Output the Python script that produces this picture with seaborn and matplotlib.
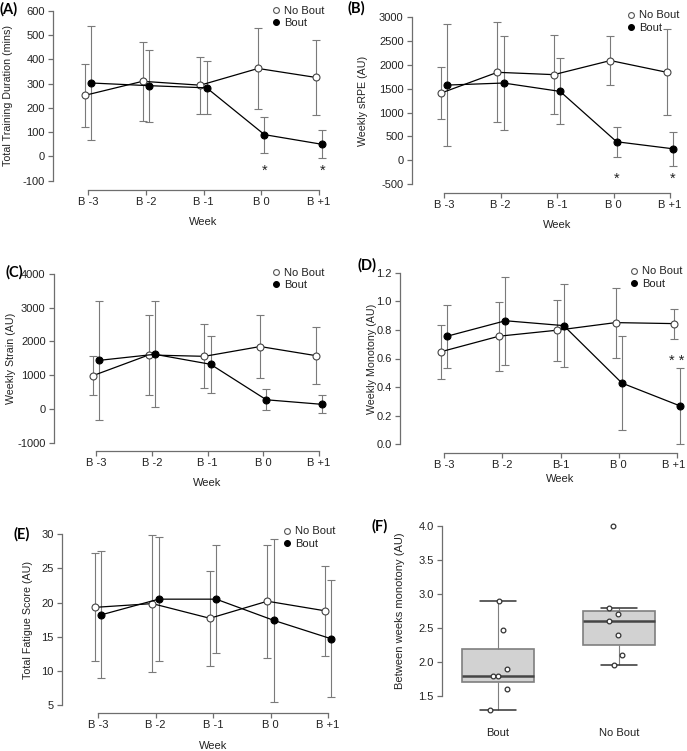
import numpy as np
import pandas as pd
import matplotlib
matplotlib.use('Agg')
import matplotlib.pyplot as plt
import matplotlib.transforms as mtransforms
from matplotlib.lines import Line2D
import seaborn as sns

# ---- data (mean and SD) ----
WEEKS = ['B -3', 'B -2', 'B -1', 'B 0', 'B +1']
WEEKS_D = ['B -3', 'B -2', 'B-1', 'B 0', 'B +1']

# (A) total training duration (mins)
dur_nobout = [252, 310, 294, 363, 326]
dur_nobout_sd = [131, 162, 117, 167, 153]
dur_bout = [303, 292, 283, 90, 50]
dur_bout_sd = [235, 149, 109, 74, 58]

# (B) weekly sRPE (AU)
srpe_nobout = [1408, 1845, 1796, 2092, 1845]
srpe_nobout_sd = [549, 1049, 828, 507, 901]
srpe_bout = [1577, 1620, 1444, 387, 239]
srpe_bout_sd = [1289, 993, 694, 317, 352]

# (C) weekly strain (AU)
strain_nobout = [987, 1600, 1560, 1850, 1580]
strain_nobout_sd = [583, 1177, 949, 930, 855]
strain_bout = [1440, 1620, 1324, 272, 137]
strain_bout_sd = [1757, 1566, 850, 312, 262]

# (D) weekly monotony (AU)
mono_nobout = [0.647, 0.756, 0.798, 0.851, 0.844]
mono_nobout_sd = [0.189, 0.240, 0.213, 0.245, 0.105]
mono_bout = [0.756, 0.864, 0.830, 0.428, 0.268]
mono_bout_sd = [0.220, 0.306, 0.290, 0.329, 0.265]

# (E) total fatigue score (AU)
fat_nobout = [19.3, 19.85, 17.7, 20.2, 18.8]
fat_nobout_sd = [7.9, 9.98, 6.95, 8.3, 6.6]
fat_bout = [18.2, 20.5, 20.5, 17.4, 14.7]
fat_bout_sd = [9.3, 9.05, 7.9, 11.95, 8.55]

# (F) between weeks monotony
between_bout = [2.9, 2.47, 1.8, 1.8, 1.9, 1.6, 1.3]
between_nobout = [4.0, 2.8, 2.7, 2.6, 2.4, 2.1, 1.95]

# ---- style ----
sns.set_theme(style='ticks')
plt.rcParams['font.family'] = ['Liberation Sans', 'DejaVu Sans']
plt.rcParams['axes.unicode_minus'] = False
FS = 8
SPINE = '#6e6e6e'
TXT = '#222222'
BAR = '#7a7a7a'
DODGE = 0.055

W, H = 687, 751
fig = plt.figure(figsize=(W / 100, H / 100), dpi=100)


def px_axes(left, right, top, bottom):
    return fig.add_axes([left / W, 1 - bottom / H, (right - left) / W, (bottom - top) / H])


def style_axis(ax, ticks, fmt):
    ax.set_yticks(ticks)
    ax.set_yticklabels([fmt.format(t) for t in ticks])
    for s in ('top', 'right'):
        ax.spines[s].set_visible(False)
    for s in ('left', 'bottom'):
        ax.spines[s].set_color(SPINE)
        ax.spines[s].set_linewidth(0.9)
    ax.spines['left'].set_bounds(ticks[0], ticks[-1])
    ax.tick_params(axis='both', colors=SPINE, labelcolor=TXT, labelsize=FS,
                   length=3.5, width=0.9, pad=2.5)


def panel_label(txt, x, y):
    fig.text(x / W, 1 - y / H, txt, ha='left', va='center', fontsize=10.5,
             fontweight='bold', family=['Lato', 'DejaVu Sans'], color='black')


def line_panel(g, nb, nb_sd, b, b_sd, ticks, fmt, ylabel, weeks, label, stars=None):
    ax = px_axes(g['left'], g['right'], g['top'], g['bottom'])
    ppu = (g['cat4'] - g['cat0']) / 4
    x = np.arange(len(weeks))
    df = pd.DataFrame({
        'pos': np.r_[x - DODGE, x + DODGE],
        'mean': np.r_[nb, b],
        'sd': np.r_[nb_sd, b_sd],
        'group': ['No Bout'] * len(x) + ['Bout'] * len(x),
    })
    looks = {'No Bout': ('white', '#444444'), 'Bout': ('black', 'black')}
    for grp, (face, edge) in looks.items():
        d = df[df['group'] == grp]
        ax.errorbar(d['pos'], d['mean'], yerr=d['sd'], fmt='none', ecolor=BAR,
                    elinewidth=0.8, capsize=2.6, capthick=0.8, zorder=1, clip_on=False)
        sns.lineplot(data=d, x='pos', y='mean', color='black', linewidth=0.9,
                     marker='o', markersize=5, markerfacecolor=face,
                     markeredgecolor=edge, markeredgewidth=0.8, ax=ax,
                     zorder=3, legend=False, clip_on=False)
    ax.set_xlim(-(g['cat0'] - g['left']) / ppu, 4 + (g['right'] - g['cat4']) / ppu)
    ax.set_ylim(ticks[0], ticks[-1])
    style_axis(ax, ticks, fmt)
    ax.spines['bottom'].set_position(('outward', g['off'] * 0.72))
    ax.spines['bottom'].set_bounds(0, 4)
    ax.set_xticks(x)
    ax.set_xticklabels(weeks)
    ax.tick_params(axis='x', pad=1.8)
    width = g['right'] - g['left']
    height = g['bottom'] - g['top']
    ax.set_ylabel(ylabel, fontsize=FS - 0.3, color=TXT, va='center')
    ax.yaxis.set_label_coords((g['ylab'] - g['left']) / width, 0.5)
    ax.set_xlabel('Week', fontsize=FS, color=TXT, va='center')
    ax.xaxis.set_label_coords(((g['cat0'] + g['cat4']) / 2 - g['left']) / width,
                              -(g['week'] - g['bottom']) / height)
    handles = [Line2D([], [], ls='none', marker='o', markersize=4.2, mfc='white',
                      mec='#555555', mew=0.8),
               Line2D([], [], ls='none', marker='o', markersize=4.2, mfc='black',
                      mec='black', mew=0.8)]
    lx, ly = g['leg']
    ax.legend(handles, ['No Bout', 'Bout'], loc='upper left',
              bbox_to_anchor=((lx - 4.5) / W, 1 - (ly - 6.5) / H),
              bbox_transform=fig.transFigure, frameon=False, fontsize=FS,
              borderpad=0, borderaxespad=0, handlelength=0.8, handletextpad=0.35,
              labelspacing=0.2, labelcolor=TXT)
    if stars:
        for sx, sy, s in stars:
            ax.annotate(s, xy=(sx, sy), xytext=(0, -6.3), textcoords='offset points',
                        ha='center', va='baseline', fontsize=10.5, color='#222222')
    panel_label(label, *g['lab'])
    return ax


geo_a = dict(left=53, right=330, top=11, bottom=180.7, cat0=88, cat4=319, off=9.3,
             ylab=8, week=222, leg=(276, 12), lab=(0, 9))
geo_b = dict(left=412, right=680, top=17.3, bottom=184, cat0=444, cat4=670, off=9,
             ylab=363, week=225, leg=(631, 17), lab=(347, 8))
geo_c = dict(left=54, right=330, top=274, bottom=442.7, cat0=96, cat4=319, off=8.3,
             ylab=11, week=483, leg=(276, 274), lab=(5, 272))
geo_d = dict(left=400, right=687, top=272.7, bottom=444.3, cat0=444, cat4=677, off=8.4,
             ylab=372, week=479, leg=(634, 273), lab=(357, 265))
geo_e = dict(left=62, right=340, top=534.3, bottom=705, cat0=98, cat4=328, off=8,
             ylab=28, week=746, leg=(287, 533), lab=(14, 534))

line_panel(geo_a, dur_nobout, dur_nobout_sd, dur_bout, dur_bout_sd,
           [-100, 0, 100, 200, 300, 400, 500, 600], '{:d}',
           'Total Training Duration (mins)', WEEKS, '(A)',
           stars=[(3 + DODGE, -38, '*'), (4 + DODGE, -38, '*')])
line_panel(geo_b, srpe_nobout, srpe_nobout_sd, srpe_bout, srpe_bout_sd,
           [-500, 0, 500, 1000, 1500, 2000, 2500, 3000], '{:d}',
           'Weekly sRPE (AU)', WEEKS, '(B)',
           stars=[(3 + DODGE, -282, '*'), (4 + DODGE, -282, '*')])
line_panel(geo_c, strain_nobout, strain_nobout_sd, strain_bout, strain_bout_sd,
           [-1000, 0, 1000, 2000, 3000, 4000], '{:d}',
           'Weekly Strain (AU)', WEEKS, '(C)')
ax_d = line_panel(geo_d, mono_nobout, mono_nobout_sd, mono_bout, mono_bout_sd,
                  [0.0, 0.2, 0.4, 0.6, 0.8, 1.0, 1.2], '{:.1f}',
                  'Weekly Monotony (AU)', WEEKS_D, '(D)',
                  stars=[(4.0, 0.618, '* *')])
# last tick label of (D) sits against the right edge, nudge it inward
last = ax_d.get_xticklabels()[-1]
last.set_transform(last.get_transform() +
                   mtransforms.ScaledTranslation(-3 / 100, 0, fig.dpi_scale_trans))
line_panel(geo_e, fat_nobout, fat_nobout_sd, fat_bout, fat_bout_sd,
           [5, 10, 15, 20, 25, 30], '{:d}',
           'Total Fatigue Score (AU)', WEEKS, '(E)')

# ---- (F) box plot ----
fdf = pd.DataFrame({
    'group': ['Bout'] * len(between_bout) + ['No Bout'] * len(between_nobout),
    'value': between_bout + between_nobout,
})
gf = dict(left=442, right=687, top=519.2, bottom=716.4)
axf = px_axes(gf['left'], gf['right'], gf['top'], gf['bottom'])
sns.boxplot(data=fdf, x='group', y='value', order=['Bout', 'No Bout'], color='#d2d2d2',
            saturation=1, width=0.6, linecolor='#7f7f7f', linewidth=1.2,
            showfliers=False, medianprops={'color': '#454545', 'linewidth': 1.8},
            whiskerprops={'linewidth': 0.8}, capprops={'linewidth': 1.1, 'color': '#333333'},
            ax=axf, zorder=2)
np.random.seed(3)
sns.stripplot(data=fdf, x='group', y='value', order=['Bout', 'No Bout'], color='white',
              edgecolor='#333333', linewidth=0.9, size=3.4, jitter=0.09, ax=axf, zorder=3)
ppu_f = 121
axf.set_xlim(-(498 - gf['left']) / ppu_f, 1 + (gf['right'] - 619) / ppu_f)
fticks = [1.5, 2.0, 2.5, 3.0, 3.5, 4.0]
axf.set_ylim(1.2, 4.1)
style_axis(axf, fticks, '{:.1f}')
axf.spines['bottom'].set_visible(False)
axf.tick_params(axis='x', length=0, pad=8)
axf.set_xlabel('')
axf.set_ylabel('Between weeks monotony (AU)', fontsize=FS, color=TXT, va='center')
axf.yaxis.set_label_coords((400 - gf['left']) / (gf['right'] - gf['left']),
                           (gf['bottom'] - 611) / (gf['bottom'] - gf['top']))
panel_label('(F)', 372, 526)

fig.savefig('out.png', dpi=100)
